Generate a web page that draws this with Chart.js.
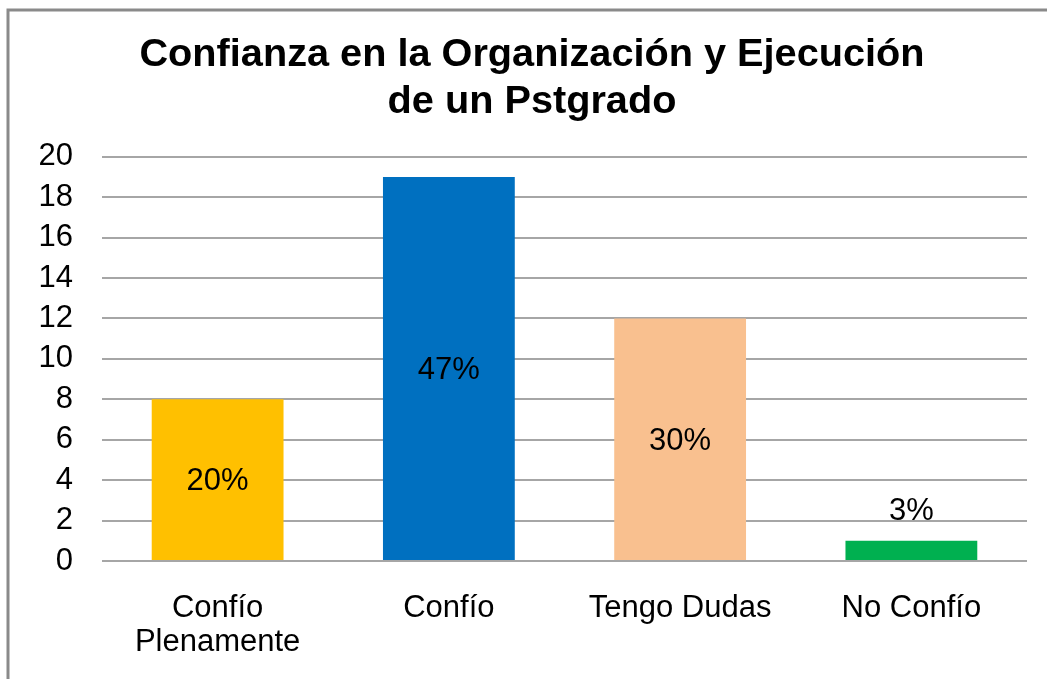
<!DOCTYPE html>
<html>
<head>
<meta charset="utf-8">
<script src="https://cdn.jsdelivr.net/npm/chart.js@4/dist/chart.umd.min.js"></script>
<style>
  html, body { margin: 0; padding: 0; background: #ffffff; }
  #wrap { width: 1047px; height: 679px; }
</style>
</head>
<body>
<div id="wrap"><canvas id="c" width="1047" height="679"></canvas></div>
<script>
// Survey answers: confidence in organizing and running a postgraduate program
const categories = [['Confío', 'Plenamente'], 'Confío', 'Tengo Dudas', 'No Confío'];
const counts = [8, 19, 12, 1];
const percentLabels = ['20%', '47%', '30%', '3%'];
const barColors = ['#FFC000', '#0070C0', '#F9C08F', '#00B050'];
const yTicks = [0, 2, 4, 6, 8, 10, 12, 14, 16, 18, 20];

const FONT = "'Liberation Sans', Arial, sans-serif";

// Thin grey frame around the chart
const framePlugin = {
  id: 'frame',
  beforeDraw(chart) {
    const ctx = chart.ctx;
    ctx.save();
    ctx.fillStyle = '#ffffff';
    ctx.fillRect(0, 0, chart.width, chart.height);
    ctx.strokeStyle = '#8a8a8a';
    ctx.lineWidth = 3;
    ctx.strokeRect(8, 10, chart.width + 20, chart.height + 20);
    ctx.restore();
  }
};

// Percentage text on each bar: centred inside tall bars, above short ones
const percentPlugin = {
  id: 'percent',
  afterDatasetsDraw(chart) {
    const ctx = chart.ctx;
    const meta = chart.getDatasetMeta(0);
    ctx.save();
    ctx.font = '31px ' + FONT;
    ctx.fillStyle = '#000000';
    ctx.textAlign = 'center';
    ctx.textBaseline = 'middle';
    meta.data.forEach((bar, i) => {
      const h = bar.base - bar.y;
      const y = h > 60 ? (bar.y + bar.base) / 2 + 2 : bar.y - 29;
      ctx.fillText(percentLabels[i], bar.x, y);
    });
    ctx.restore();
  }
};

new Chart(document.getElementById('c'), {
  type: 'bar',
  data: {
    labels: categories,
    datasets: [{
      data: counts,
      backgroundColor: barColors,
      borderWidth: 0,
      barPercentage: 0.57,
      categoryPercentage: 1.0
    }]
  },
  options: {
    responsive: false,
    animation: false,
    devicePixelRatio: 1,
    layout: { padding: { left: 37, right: 20, top: 10, bottom: 0 } },
    plugins: {
      legend: { display: false },
      tooltip: { enabled: false },
      title: {
        display: true,
        text: ['Confianza en la Organización y Ejecución', 'de un Pstgrado'],
        color: '#000000',
        font: { family: FONT, size: 39.7, weight: 'bold', lineHeight: 1.18 },
        padding: { top: 22, bottom: 31 }
      }
    },
    scales: {
      x: {
        afterFit(scale) { scale.height = 118; },
        grid: { display: false, drawTicks: false },
        border: { display: false },
        ticks: {
          color: '#000000',
          font: { family: FONT, size: 31, lineHeight: 1.1 },
          padding: 30,
          maxRotation: 0,
          autoSkip: false
        }
      },
      y: {
        min: 0,
        max: 20,
        afterBuildTicks(scale) {
          scale.ticks = yTicks.map(v => ({ value: v }));
        },
        afterFit(scale) { scale.width = 65; },
        grid: { color: '#a6a6a6', lineWidth: 2, drawTicks: false },
        border: { display: false },
        ticks: {
          color: '#000000',
          font: { family: FONT, size: 31 },
          padding: 29
        }
      }
    }
  },
  plugins: [framePlugin, percentPlugin]
});
</script>
</body>
</html>
